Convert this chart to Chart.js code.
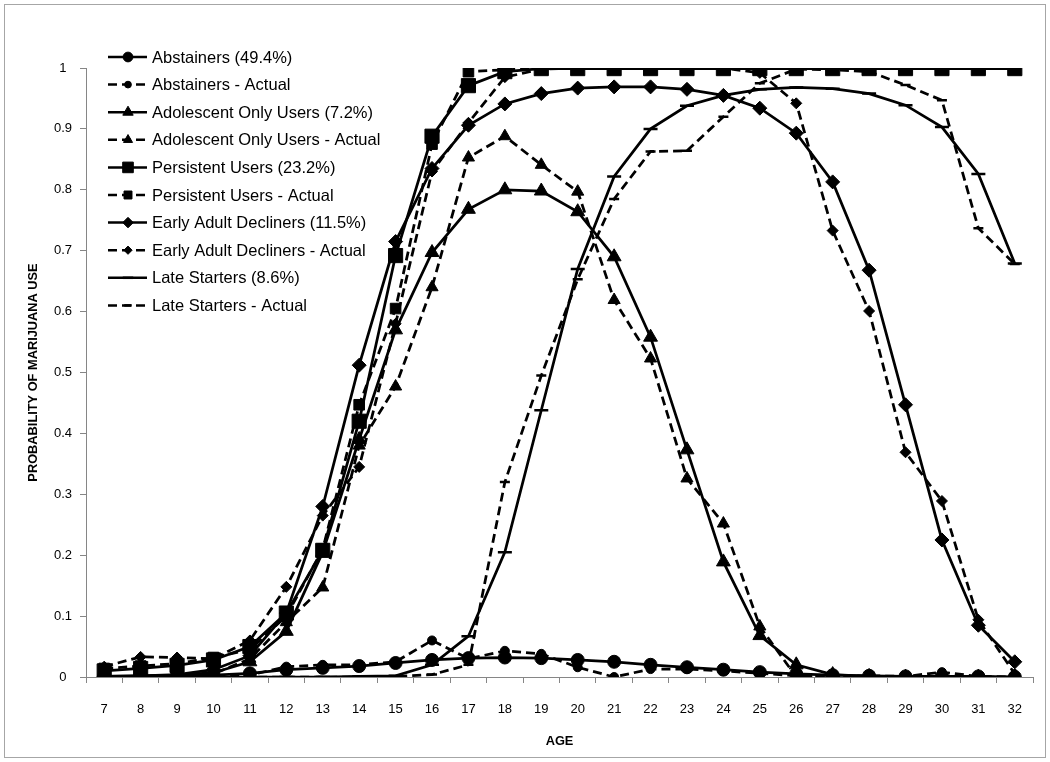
<!DOCTYPE html>
<html>
<head>
<meta charset="utf-8">
<title>Probability of marijuana use by age</title>
<script src="https://cdn.jsdelivr.net/npm/chart.js@4.4.0/dist/chart.umd.min.js"></script>
<style>
  html, body { margin: 0; padding: 0; background: #fff; }
  #wrap { width: 1050px; height: 762px; }
</style>
</head>
<body>
<div id="wrap"><canvas id="useChart" width="1050" height="762"></canvas></div>
<script>
// ages on the x axis
const ages = ['7','8','9','10','11','12','13','14','15','16','17','18','19','20','21','22','23','24','25','26','27','28','29','30','31','32'];
const yTickLabels = ['0','0.1','0.2','0.3','0.4','0.5','0.6','0.7','0.8','0.9','1'];

// values
const abstainers =         [0.001,0.001,0.002,0.003,0.006,0.012,0.015,0.018,0.023,0.028,0.031,0.032,0.031,0.028,0.025,0.020,0.016,0.012,0.008,0.005,0.003,0.002,0.001,0.001,0.001,0.000];
const abstainersActual =   [0.001,0.001,0.001,0.001,0.003,0.017,0.020,0.020,0.025,0.060,0.030,0.043,0.038,0.016,0.000,0.013,0.013,0.010,0.006,0.002,0.001,0.002,0.001,0.008,0.001,0.000];
const adolescent =         [0.001,0.002,0.003,0.007,0.025,0.075,0.205,0.390,0.570,0.697,0.768,0.800,0.798,0.764,0.690,0.558,0.373,0.189,0.068,0.020,0.004,0.001,0.000,0.000,0.000,0.000];
const adolescentActual =   [0.000,0.000,0.000,0.005,0.030,0.090,0.147,0.380,0.477,0.640,0.853,0.888,0.841,0.797,0.619,0.523,0.326,0.252,0.083,0.000,0.003,0.000,0.000,0.000,0.000,0.000];
const persistent =         [0.010,0.014,0.019,0.028,0.050,0.105,0.208,0.420,0.692,0.888,0.971,0.994,0.999,0.999,0.999,0.999,0.999,0.999,0.999,0.999,0.999,0.999,0.999,0.999,0.999,0.999];
const persistentActual =   [0.014,0.018,0.022,0.032,0.045,0.100,0.210,0.447,0.605,0.875,0.994,0.997,1.000,1.000,1.000,1.000,1.000,1.000,1.000,1.000,1.000,1.000,1.000,1.000,1.000,1.000];
const decliners =          [0.001,0.002,0.004,0.012,0.035,0.105,0.280,0.512,0.715,0.835,0.906,0.941,0.958,0.967,0.969,0.969,0.965,0.955,0.934,0.893,0.813,0.668,0.447,0.225,0.085,0.025];
const declinersActual =    [0.017,0.033,0.032,0.030,0.060,0.148,0.265,0.345,0.580,0.830,0.910,0.985,0.998,1.000,1.000,1.000,1.000,1.000,0.992,0.942,0.733,0.601,0.369,0.289,0.094,0.005];
const lateStarters =       [0.000,0.000,0.000,0.000,0.000,0.000,0.000,0.001,0.002,0.020,0.067,0.205,0.438,0.670,0.822,0.900,0.938,0.955,0.965,0.968,0.966,0.958,0.939,0.903,0.826,0.679];
const lateStartersActual = [0.000,0.000,0.000,0.000,0.000,0.000,0.000,0.000,0.001,0.004,0.020,0.320,0.495,0.653,0.785,0.863,0.864,0.920,0.975,0.998,0.997,0.994,0.972,0.947,0.737,0.678];

const FONT = "'Liberation Sans', Arial, sans-serif";
const AXIS_GRAY = '#868686';
const DASH = [9, 5];

Chart.defaults.font.family = FONT;
Chart.defaults.color = '#000';

function series(label, data, style, radius, dashed) {
  return {
    label: label,
    data: data,
    borderColor: '#000',
    backgroundColor: '#000',
    borderWidth: 2.75,
    borderDash: dashed ? DASH : [],
    pointStyle: style,
    pointRadius: radius,
    pointHoverRadius: radius,
    pointBackgroundColor: '#000',
    pointBorderColor: '#000',
    pointBorderWidth: style === 'line' ? 2.5 : 1,
    tension: 0,
    fill: false
  };
}

// white background + light frame like the original chart area
const frame = {
  id: 'frame',
  beforeDraw(chart) {
    const ctx = chart.ctx;
    ctx.save();
    ctx.fillStyle = '#fff';
    ctx.fillRect(0, 0, chart.width, chart.height);
    ctx.strokeStyle = '#a6a6a6';
    ctx.lineWidth = 1;
    ctx.strokeRect(4.5, 4.5, chart.width - 9, chart.height - 9);
    ctx.restore();
  }
};

// legend drawn with line sample + marker, inside the plot at top left
const lineLegend = {
  id: 'lineLegend',
  afterDraw(chart) {
    const ctx = chart.ctx;
    ctx.save();
    chart.data.datasets.forEach((ds, i) => {
      const y = 57 + i * 27.6;
      ctx.strokeStyle = '#000';
      ctx.fillStyle = '#000';
      ctx.lineWidth = 2.5;
      ctx.setLineDash(ds.borderDash);
      ctx.beginPath();
      ctx.moveTo(108, y);
      ctx.lineTo(147, y);
      ctx.stroke();
      ctx.setLineDash([]);
      ctx.lineWidth = ds.pointBorderWidth;
      Chart.helpers.drawPoint(ctx, {
        pointStyle: ds.pointStyle,
        radius: ds.pointRadius * 0.75,
        rotation: 0,
        borderWidth: ds.pointBorderWidth
      }, 128, y);
      ctx.font = '16.5px ' + FONT;
      ctx.textBaseline = 'middle';
      ctx.textAlign = 'left';
      ctx.fillText(ds.label, 152, y + 1);
    });
    ctx.restore();
  }
};

new Chart(document.getElementById('useChart').getContext('2d'), {
  type: 'line',
  data: {
    labels: ages,
    datasets: [
      series('Abstainers (49.4%)', abstainers, 'circle', 6.5, false),
      series('Abstainers - Actual', abstainersActual, 'circle', 4.5, true),
      series('Adolescent Only Users (7.2%)', adolescent, 'triangle', 8, false),
      series('Adolescent Only Users - Actual', adolescentActual, 'triangle', 7, true),
      series('Persistent Users (23.2%)', persistent, 'rect', 10, false),
      series('Persistent Users - Actual', persistentActual, 'rect', 7.5, true),
      series('Early Adult Decliners (11.5%)', decliners, 'rectRot', 7, false),
      series('Early Adult Decliners - Actual', declinersActual, 'rectRot', 5.5, true),
      series('Late Starters (8.6%)', lateStarters, 'line', 7, false),
      series('Late Starters - Actual', lateStartersActual, 'line', 5, true)
    ]
  },
  options: {
    responsive: false,
    animation: false,
    layout: { padding: { left: 0, top: 68, right: 17, bottom: 0 } },
    plugins: {
      legend: { display: false },
      tooltip: { enabled: true }
    },
    scales: {
      x: {
        type: 'category',
        offset: true,
        grid: { display: true, drawOnChartArea: false, offset: true, tickLength: 6, color: AXIS_GRAY },
        border: { color: AXIS_GRAY, width: 1 },
        ticks: { color: '#000', font: { size: 13 }, padding: 19, autoSkip: false, maxRotation: 0 },
        title: { display: true, text: 'AGE', color: '#000', font: { size: 12.8, weight: 'bold' }, padding: { top: 0, bottom: 13 } },
        afterFit(scale) { scale.height = 85; }
      },
      y: {
        min: 0,
        max: 1,
        grid: { display: true, drawOnChartArea: false, tickLength: 6, color: AXIS_GRAY },
        border: { color: AXIS_GRAY, width: 1 },
        ticks: {
          stepSize: 0.1,
          padding: 8,
          crossAlign: 'center',
          color: '#000',
          font: { size: 13 },
          callback: (v, i) => yTickLabels[i]
        },
        title: { display: true, text: 'PROBABILITY OF MARIJUANA USE', color: '#000', font: { size: 12.8, weight: 'bold' }, padding: { top: 26, bottom: 0 } },
        afterFit(scale) { scale.width = 86; }
      }
    }
  },
  plugins: [frame, lineLegend]
});
</script>
</body>
</html>
